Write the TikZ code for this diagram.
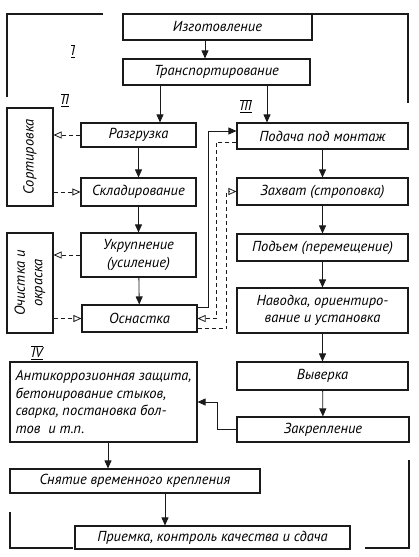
\documentclass[tikz,border=0pt]{standalone}
\usepackage{fontspec}
\setmainfont{PT Sans}
\usetikzlibrary{arrows.meta, positioning, calc}
\definecolor{inkDark}{HTML}{1A1A1A}
\newcommand{\rnum}[1]{$\overline{\underline{\hbox{\itshape #1}}}$}
\tikzset{
  arrowS/.style={-{Triangle[length=8pt, width=7pt]}, inkDark, line width=0.8pt},
  arrowD/.style={-{Triangle[open, length=8pt, width=7pt]}, inkDark, line width=0.8pt,
                 dash pattern=on 4pt off 3pt},
  boxS/.style={rectangle, draw=inkDark, line width=1.1pt, align=center, inner sep=2pt,
               font=\itshape\fontsize{14.5}{17.5}\selectfont},
  boxV/.style={boxS, rotate=90},
  numR/.style={font=\fontsize{14}{14}\selectfont, inner sep=1pt},
  frameL/.style={inkDark, line width=1.6pt},
}
\begin{document}
\begin{tikzpicture}[x=1pt, y=1pt]
  \useasboundingbox (0,0) rectangle (419,-557);
  % stage frames
  \draw[frameL] (7,-97) -- (7,-14) -- (103,-14);
  \draw[frameL] (312,-14) -- (408,-14) -- (408,-103);
  \draw[frameL] (10,-512) -- (10,-548) -- (73,-548);
  \draw[frameL] (365,-548) -- (409,-548) -- (409,-460);
  \node[numR] (n1) at (73,-51) {\rnum{I}};
  \node[numR] (n2) at (65,-100) {\rnum{II}};
  \node[numR] (n3) at (246,-106) {\rnum{III}};
  \node[numR] (n4) at (37,-353) {\rnum{IV}};
  % main chain
  \node[boxS, minimum width=189, minimum height=26] (izg) at (217.5,-27) {Изготовление};
  \node[boxS, minimum width=187, minimum height=26] (trans) at (216.5,-72) {Транспортирование};
  \node[boxS, minimum width=115, minimum height=24] (razg) at (138.5,-135) {Разгрузка};
  \node[boxS, minimum width=115, minimum height=28] (sklad) at (138.5,-192) {Складирование};
  \node[boxS, minimum width=115, minimum height=44] (ukrup) at (138.5,-255) {Укрупнение\\(усиление)};
  \node[boxS, minimum width=115, minimum height=27] (osn) at (139.5,-318.5) {Оснастка};
  \node[boxS, minimum width=171, minimum height=26] (podacha) at (322.5,-136) {Подача под монтаж};
  \node[boxS, minimum width=171, minimum height=27] (zahvat) at (322.5,-191.5) {Захват (строповка)};
  \node[boxS, minimum width=171, minimum height=27] (podem) at (322.5,-247.5) {Подъем (перемещение)};
  \node[boxS, minimum width=171, minimum height=45] (navod) at (322.5,-310.5) {Наводка, ориентиро-\\вание и установка};
  \node[boxS, minimum width=171, minimum height=28] (vyver) at (322.5,-376) {Выверка};
  \node[boxS, minimum width=172, minimum height=25] (zakrep) at (323,-429.5) {Закрепление};
  \node[boxS, minimum width=187, minimum height=80, align=left] (antik) at (103.5,-402)
    {Антикоррозионная защита,\\бетонирование стыков,\\сварка, постановка бол-\\тов\ \ и т.п.};
  \node[boxS, minimum width=250, minimum height=24] (snyat) at (135,-481) {Снятие\ временного крепления};
  \node[boxS, minimum width=275, minimum height=23] (priem) at (212.5,-537.5) {Приемка, контроль качества и сдача};
  % side boxes
  \node[boxV, minimum width=98, minimum height=46] (sort) at (30,-157) {Сортировка};
  \node[boxV, minimum width=100, minimum height=46] (ochist) at (30,-283) {Очистка и\\окраска};
  % solid flow
  \draw[arrowS] (izg.south -| 205,0) -- (trans.north -| 205,0);
  \draw[arrowS] (trans.south -| 160,0) -- (razg.north -| 160,0);
  \draw[arrowS] (trans.south -| 267,0) -- (podacha.north -| 267,0);
  \draw[arrowS] (razg) -- (sklad);
  \draw[arrowS] (sklad) -- (ukrup);
  \draw[arrowS] (ukrup) -- (osn);
  \draw[arrowS] (podacha) -- (zahvat);
  \draw[arrowS] (zahvat) -- (podem);
  \draw[arrowS] (podem) -- (navod);
  \draw[arrowS] (navod) -- (vyver);
  \draw[arrowS] (vyver) -- (zakrep);
  \draw[arrowS] (zakrep.west) -- ++(-19,0) |- (antik.east);
  \draw[arrowS] (antik.south -| 108,0) -- (snyat.north -| 108,0);
  \draw[arrowS] (snyat.south -| 165,0) -- (priem.north -| 165,0);
  \draw[arrowS] ([yshift=11.5]osn.east) -- ++(11,0) |- ([yshift=5]podacha.west);
  % dashed links
  \draw[arrowD] (razg.west) -- (sort.south |- razg.west);
  \draw[arrowD] (sort.south |- sklad.west) -- (sklad.west);
  \draw[arrowD] (ukrup.west) -- (ochist.south |- ukrup.west);
  \draw[arrowD] (ochist.south |- osn.west) -- (osn.west);
  \draw[arrowD] ([yshift=-6]podacha.west) -- ++(-20,0) |- (osn.east);
  \draw[arrowD] ([yshift=-10]osn.east) -- ++(29,0) |- (zahvat.west);
\end{tikzpicture}
\end{document}
